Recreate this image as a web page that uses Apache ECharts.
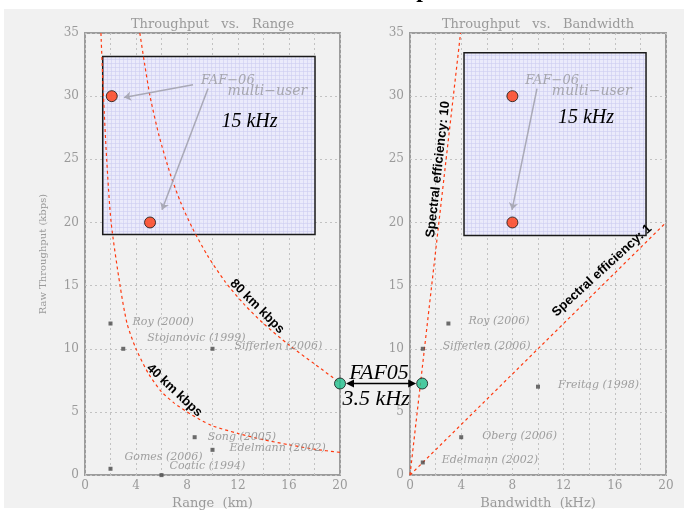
<!DOCTYPE html>
<html>
<head>
<meta charset="utf-8">
<script src="https://cdn.jsdelivr.net/npm/echarts@6/dist/echarts.min.js"></script>
<style>
  html, body { margin: 0; padding: 0; background: #ffffff; }
  #wrap { position: relative; width: 684px; height: 515px; overflow: hidden; }
  #panel { position: absolute; left: 4px; top: 9px; width: 680px; height: 499px; background: #f1f1f1; }
  #chart { position: absolute; left: 0; top: 0; width: 684px; height: 515px; }
</style>
</head>
<body>
<div id="wrap"><div id="panel"></div><div id="chart"></div></div>
<script>
// ---- axis ticks ----
const xTickLabels = ['0', '4', '8', '12', '16', '20'];
const yTickLabels = ['0', '5', '10', '15', '20', '25', '30', '35'];

// ---- Throughput vs. Range: published systems ----
const rangeStudies = ['Roy (2000)', 'Stojanovic (1999)', 'Sifferlen (2006)', 'Song (2005)', 'Edelmann (2002)', 'Gomes (2006)', 'Coatic (1994)'];
const rangeKm      = [2, 3, 10, 8.6, 10, 2, 6];
const rangeKbps    = [12, 10, 10, 3, 2, 0.5, 0];

// ---- Throughput vs. Bandwidth: published systems ----
const bwStudies = ['Roy (2006)', 'Sifferlen (2006)', 'Freitag (1998)', 'Oberg (2006)', 'Edelmann (2002)'];
const bwKHz     = [3, 1, 10, 4, 1];
const bwKbps    = [12, 10, 7, 3, 1];

// ---- range x throughput product curves (km * kbps) ----
const curve40 = [[1.25, 35], [1.45, 30], [1.7, 25], [2.05, 20], [2.75, 15], [3.3, 12], [4.0, 10], [5, 8.0], [6, 6.6], [7, 5.7], [8, 5.0], [9, 4.4], [10, 3.9], [12, 3.3], [14, 2.8], [16, 2.4], [18, 2.05], [20, 1.8]];
const curve80 = [[4.3, 35], [4.7, 32.4], [5.1, 30], [5.8, 26.9], [6.7, 23.8], [7.5, 21.6], [8.4, 19.6], [9.6, 17.4], [11, 15.3], [12.5, 13.5], [14, 12.0], [16, 10.3], [18, 8.8], [20, 7.3]];

// ---- spectral efficiency lines (kbps per kHz) ----
const se10 = [[0, 0], [3.95, 35]];
const se1  = [[0, 0], [20, 20]];

// ---- FAF-06 multi-user (15 kHz) and FAF05 (3.5 kHz) ----
const faf06Range = [[2.1, 30], [5.1, 20]];
const faf06Bw    = [[8, 30], [8, 20]];
const faf05Range = [[20, 7.25]];
const faf05Bw    = [[0.95, 7.25]];

// ---- 15 kHz inset boxes [x0, y0, x1, y1] ----
const insetRange = [[1.39, 19.04, 18.04, 33.13]];
const insetBw    = [[4.22, 18.96, 18.44, 33.44]];

// label placement: left edge of text relative to the point, vertical centre offset
const rangeLabelOffsets = [[22, -1], [24, -10.5], [22, -2.5], [13, 0], [17, -2], [14, -11.5], [8, -8.5]];
const bwLabelOffsets    = [[20, -2.5], [20, -3], [20, -2], [21, -1], [19, -2]];

const GRAY_TXT = '#9a9a9a';
const SERIF = '"DejaVu Serif", serif';
const TIMES = '"Liberation Serif", "Times New Roman", serif';
const SANS = '"Liberation Sans", Arial, sans-serif';
const RED = '#ff3a10';

// fine graph-paper fill for the inset boxes
const paper = document.createElement('canvas');
paper.width = 4; paper.height = 4;
(function () {
  const g = paper.getContext('2d');
  g.fillStyle = 'rgba(234,234,252,0.9)';
  g.fillRect(0, 0, 4, 4);
  g.fillStyle = 'rgba(205,205,240,0.6)';
  g.fillRect(0, 3, 4, 1);
  g.fillRect(3, 0, 1, 4);
})();

function insetItem(params, api) {
  const a = api.coord([api.value(0), api.value(3)]);
  const b = api.coord([api.value(2), api.value(1)]);
  return {
    type: 'rect',
    shape: { x: a[0], y: a[1], width: b[0] - a[0], height: b[1] - a[1] },
    style: { fill: { image: paper, repeat: 'repeat' }, stroke: '#1a1a1a', lineWidth: 1.5 }
  };
}

function studyPoints(names, xs, ys, offs) {
  return names.map((n, i) => ({
    name: n,
    value: [xs[i], ys[i]],
    label: { offset: [offs[i][0] - 2, offs[i][1]] }
  }));
}

function makeXAxis(gridIndex, name) {
  return {
    type: 'value', gridIndex, min: 0, max: 20, interval: 2,
    name, nameLocation: 'middle', nameGap: 13,
    nameTextStyle: { color: GRAY_TXT, fontFamily: SERIF, fontSize: 13 },
    axisLine: { show: false }, axisTick: { show: false },
    axisLabel: {
      color: GRAY_TXT, fontFamily: SERIF, fontSize: 12, margin: 5,
      formatter: v => (xTickLabels.indexOf(String(v)) >= 0 ? String(v) : '')
    },
    splitLine: { show: true, lineStyle: { color: '#c2c2c2', type: [2, 3], width: 1 } }
  };
}

function makeYAxis(gridIndex, name) {
  return {
    type: 'value', gridIndex, min: 0, max: 35, interval: 5,
    name, nameLocation: 'middle', nameGap: 37,
    nameTextStyle: { color: GRAY_TXT, fontFamily: SERIF, fontSize: 10 },
    axisLine: { show: false }, axisTick: { show: false },
    axisLabel: {
      color: GRAY_TXT, fontFamily: SERIF, fontSize: 12, margin: 6,
      formatter: v => (yTickLabels.indexOf(String(v)) >= 0 ? String(v) : '')
    },
    splitLine: { show: true, lineStyle: { color: '#c2c2c2', type: [2, 3], width: 1 } }
  };
}

const studyLabel = {
  show: true, position: 'right', distance: 0,
  formatter: p => p.name,
  color: '#8a8a8a', fontFamily: SERIF, fontStyle: 'italic', fontSize: 11
};

function curve(xi, data, smooth) {
  return {
    type: 'line', xAxisIndex: xi, yAxisIndex: xi, data,
    smooth: smooth ? 0.25 : false,
    symbol: 'none', silent: true, z: 3,
    lineStyle: { color: RED, width: 1.2, type: [3, 3] }
  };
}

function dots(xi, data, color, size) {
  return {
    type: 'scatter', xAxisIndex: xi, yAxisIndex: xi, data, symbolSize: size, z: 6,
    itemStyle: { color, borderColor: '#111', borderWidth: 1 }
  };
}

function arrows(xi, segs) {
  return {
    type: 'lines', coordinateSystem: 'cartesian2d', xAxisIndex: xi, yAxisIndex: xi,
    data: segs.map(s => ({ coords: s })), symbol: ['none', 'arrow'], symbolSize: 7, z: 5,
    lineStyle: { color: '#a9a9b6', width: 1.5, opacity: 1 }
  };
}

const chart = echarts.init(document.getElementById('chart'), null, { renderer: 'canvas' });

chart.setOption({
  backgroundColor: 'transparent',
  animation: false,
  grid: [
    { left: 85, right: 344, top: 33, bottom: 39, show: true, borderColor: '#9c9c9c', borderWidth: 2, backgroundColor: 'transparent' },
    { left: 410, right: 18, top: 33, bottom: 39, show: true, borderColor: '#9c9c9c', borderWidth: 2, backgroundColor: 'transparent' }
  ],
  xAxis: [makeXAxis(0, 'Range  (km)'), makeXAxis(1, 'Bandwidth  (kHz)')],
  yAxis: [makeYAxis(0, 'Raw Throughput (kbps)'), makeYAxis(1, '')],
  series: [
    { type: 'custom', xAxisIndex: 0, yAxisIndex: 0, data: insetRange, renderItem: insetItem, z: 1, silent: true },
    { type: 'custom', xAxisIndex: 1, yAxisIndex: 1, data: insetBw, renderItem: insetItem, z: 1, silent: true },
    curve(0, curve40, true),
    curve(0, curve80, true),
    curve(1, se10, false),
    curve(1, se1, false),
    {
      type: 'scatter', xAxisIndex: 0, yAxisIndex: 0, symbol: 'rect', symbolSize: 4, z: 4,
      itemStyle: { color: '#4a4a4a' }, label: studyLabel,
      data: studyPoints(rangeStudies, rangeKm, rangeKbps, rangeLabelOffsets)
    },
    {
      type: 'scatter', xAxisIndex: 1, yAxisIndex: 1, symbol: 'rect', symbolSize: 4, z: 4,
      itemStyle: { color: '#4a4a4a' }, label: studyLabel,
      data: studyPoints(bwStudies, bwKHz, bwKbps, bwLabelOffsets)
    },
    arrows(0, [[[8.47, 30.9], [3.06, 29.9]], [[9.65, 30.6], [6.04, 21.0]]]),
    arrows(1, [[[9.92, 30.6], [7.97, 21.0]]]),
    dots(0, faf06Range, RED, 11),
    dots(1, faf06Bw, RED, 11),
    dots(0, faf05Range, '#1fbf8c', 11),
    dots(1, faf05Bw, '#1fbf8c', 11)
  ]
});

// ---- annotations placed in data coordinates ----
const notes = [
  { g: 0, at: [13.5, 13.35], text: '80 km kbps', rot: -45, font: 'bold 13px ' + SANS, fill: '#000' },
  { g: 0, at: [7.0, 6.7], text: '40 km kbps', rot: -43, font: 'bold 13px ' + SANS, fill: '#000' },
  { g: 1, at: [2.2, 24.2], text: 'Spectral efficiency: 10', rot: 83.6, font: 'bold 13px ' + SANS, fill: '#000' },
  { g: 1, at: [15.0, 16.2], text: 'Spectral efficiency: 1', rot: 42.4, font: 'bold 13px ' + SANS, fill: '#000' },
  { g: 0, at: [12.9, 28.0], text: '15 kHz', rot: 0, font: 'italic 20px ' + TIMES, fill: '#000' },
  { g: 1, at: [13.75, 28.3], text: '15 kHz', rot: 0, font: 'italic 20px ' + TIMES, fill: '#000' },
  { g: 0, at: [11.2, 31.2], text: 'FAF\u221206', rot: 0, font: 'italic 13px ' + SERIF, fill: '#a6a6ae' },
  { g: 0, at: [14.3, 30.4], text: 'multi\u2212user', rot: 0, font: 'italic 14px ' + SERIF, fill: '#a6a6ae' },
  { g: 1, at: [11.1, 31.2], text: 'FAF\u221206', rot: 0, font: 'italic 13px ' + SERIF, fill: '#a6a6ae' },
  { g: 1, at: [14.2, 30.4], text: 'multi\u2212user', rot: 0, font: 'italic 14px ' + SERIF, fill: '#a6a6ae' }
];

const px = (g, pt) => chart.convertToPixel({ gridIndex: g }, pt);
const elements = notes.map(n => {
  const p = px(n.g, n.at);
  return {
    type: 'text', x: p[0], y: p[1], rotation: n.rot * Math.PI / 180, z: 20, silent: true,
    style: { text: n.text, font: n.font, fill: n.fill, align: 'center', verticalAlign: 'middle' }
  };
});

// panel titles
[[0, 'Throughput   vs.   Range'], [1, 'Throughput   vs.   Bandwidth']].forEach(([g, t]) => {
  const p = px(g, [10, 35]);
  elements.push({
    type: 'text', x: p[0], y: p[1] - 8, z: 20, silent: true,
    style: { text: t, font: '13px ' + SERIF, fill: GRAY_TXT, align: 'center', verticalAlign: 'middle' }
  });
});

// heading above both panels (only its lower edge is inside the page)
elements.push({
  type: 'text', x: 367, y: -9, z: 20, silent: true,
  style: { text: 'Comparison', font: 'bold 24px ' + TIMES, fill: '#000', align: 'left', verticalAlign: 'middle' }
});

// FAF05 double-headed arrow between the two panels
const a = px(0, faf05Range[0]);
const b = px(1, faf05Bw[0]);
const ax = a[0] + 6, bx = b[0] - 6, ay = (a[1] + b[1]) / 2;
elements.push(
  { type: 'line', z: 20, silent: true, shape: { x1: ax + 6, y1: ay, x2: bx - 6, y2: ay }, style: { stroke: '#000', lineWidth: 1.5 } },
  { type: 'polygon', z: 20, silent: true, shape: { points: [[ax, ay], [ax + 8, ay - 4], [ax + 8, ay + 4]] }, style: { fill: '#000' } },
  { type: 'polygon', z: 20, silent: true, shape: { points: [[bx, ay], [bx - 8, ay - 4], [bx - 8, ay + 4]] }, style: { fill: '#000' } },
  { type: 'text', x: (ax + bx) / 2 - 2, y: ay - 10, z: 20, silent: true,
    style: { text: 'FAF05', font: 'italic 22px ' + TIMES, fill: '#000', align: 'center', verticalAlign: 'middle' } },
  { type: 'text', x: (ax + bx) / 2 - 5, y: ay + 16, z: 20, silent: true,
    style: { text: '3.5 kHz', font: 'italic 22px ' + TIMES, fill: '#000', align: 'center', verticalAlign: 'middle' } }
);

chart.setOption({ graphic: { elements } });
</script>
</body>
</html>
